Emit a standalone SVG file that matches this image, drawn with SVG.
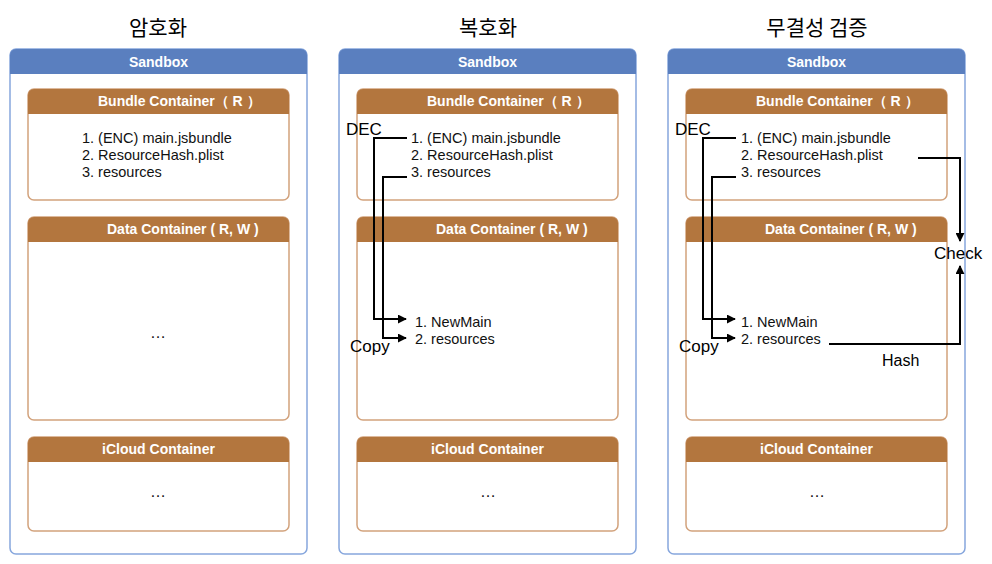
<svg xmlns="http://www.w3.org/2000/svg" width="992" height="564" viewBox="0 0 992 564">
<defs>
<style>
.title{font-family:"Noto Sans CJK KR","Noto Sans",sans-serif;font-size:21px;fill:#000;text-anchor:middle}
.sbx{fill:#fff;stroke:#86a6dd;stroke-width:1.5}
.sbxh{fill:#5a7fbf}
.sbxt{font-family:"Liberation Sans",Arial,sans-serif;font-weight:bold;font-size:14px;fill:#fff;text-anchor:middle}
.ctr{fill:#fff;stroke:#d2a27c;stroke-width:1.5}
.ctrh{fill:#b3763e}
.ctrt{font-family:"Liberation Sans",Arial,sans-serif;font-weight:bold;font-size:14px;fill:#fff}
.item{font-family:"Liberation Sans",Arial,sans-serif;font-size:14.5px;fill:#111}
.lbl{font-family:"Liberation Sans",Arial,sans-serif;font-size:17px;fill:#000}
.dots{font-family:"Liberation Sans",Arial,sans-serif;font-size:16px;fill:#111;text-anchor:middle}
.conn{fill:none;stroke:#000;stroke-width:2}
</style>
<marker id="ah" viewBox="0 0 10 10" refX="9" refY="5" markerWidth="4.5" markerHeight="4.5" orient="auto" markerUnits="strokeWidth">
<path d="M0,0 L10,5 L0,10 Z" fill="#000"/>
</marker>
</defs>
<rect width="992" height="564" fill="#fff"/>

<text class="title" x="158" y="35">암호화</text>
<text class="title" x="488" y="35">복호화</text>
<text class="title" x="817" y="35">무결성 검증</text>

<!-- Panel 1 -->
<g id="sandbox1">
<rect class="sbx" x="10" y="49" width="297" height="505" rx="6"/>
<path class="sbxh" d="M10,74 V55 a6,6 0 0 1 6,-6 H301 a6,6 0 0 1 6,6 V74 Z"/>
<text class="sbxt" x="158.5" y="67">Sandbox</text>
</g>
<g id="bundle1">
<rect class="ctr" x="28" y="89" width="261" height="111" rx="6"/>
<path class="ctrh" d="M28,114 V95 a6,6 0 0 1 6,-6 H283 a6,6 0 0 1 6,6 V114 Z"/>
<text class="ctrt" x="98" y="106">Bundle Container（ R ）</text>
<text class="item" x="82" y="143">1. (ENC) main.jsbundle</text>
<text class="item" x="82" y="160">2. ResourceHash.plist</text>
<text class="item" x="82" y="177">3. resources</text>
</g>
<g id="data1">
<rect class="ctr" x="28" y="217" width="261" height="203" rx="6"/>
<path class="ctrh" d="M28,242 V223 a6,6 0 0 1 6,-6 H283 a6,6 0 0 1 6,6 V242 Z"/>
<text class="ctrt" x="107" y="234">Data Container ( R, W )</text>
<text class="dots" x="158" y="338">…</text>
</g>
<g id="icloud1">
<rect class="ctr" x="28" y="437" width="261" height="94" rx="6"/>
<path class="ctrh" d="M28,462 V443 a6,6 0 0 1 6,-6 H283 a6,6 0 0 1 6,6 V462 Z"/>
<text class="ctrt" x="158.5" y="454" text-anchor="middle">iCloud Container</text>
<text class="dots" x="158" y="497">…</text>
</g>

<!-- Panel 2 -->
<g id="sandbox2">
<rect class="sbx" x="339" y="49" width="297" height="505" rx="6"/>
<path class="sbxh" d="M339,74 V55 a6,6 0 0 1 6,-6 H630 a6,6 0 0 1 6,6 V74 Z"/>
<text class="sbxt" x="487.5" y="67">Sandbox</text>
</g>
<g id="bundle2">
<rect class="ctr" x="357" y="89" width="261" height="111" rx="6"/>
<path class="ctrh" d="M357,114 V95 a6,6 0 0 1 6,-6 H612 a6,6 0 0 1 6,6 V114 Z"/>
<text class="ctrt" x="427" y="106">Bundle Container（ R ）</text>
<text class="item" x="411" y="143">1. (ENC) main.jsbundle</text>
<text class="item" x="411" y="160">2. ResourceHash.plist</text>
<text class="item" x="411" y="177">3. resources</text>
</g>
<g id="data2">
<rect class="ctr" x="357" y="217" width="261" height="203" rx="6"/>
<path class="ctrh" d="M357,242 V223 a6,6 0 0 1 6,-6 H612 a6,6 0 0 1 6,6 V242 Z"/>
<text class="ctrt" x="436" y="234">Data Container ( R, W )</text>
<text class="item" x="415" y="327">1. NewMain</text>
<text class="item" x="415" y="344">2. resources</text>
</g>
<g id="icloud2">
<rect class="ctr" x="357" y="437" width="261" height="94" rx="6"/>
<path class="ctrh" d="M357,462 V443 a6,6 0 0 1 6,-6 H612 a6,6 0 0 1 6,6 V462 Z"/>
<text class="ctrt" x="487.5" y="454" text-anchor="middle">iCloud Container</text>
<text class="dots" x="488" y="497">…</text>
</g>

<!-- Panel 3 -->
<g id="sandbox3">
<rect class="sbx" x="668" y="49" width="297" height="505" rx="6"/>
<path class="sbxh" d="M668,74 V55 a6,6 0 0 1 6,-6 H959 a6,6 0 0 1 6,6 V74 Z"/>
<text class="sbxt" x="816.5" y="67">Sandbox</text>
</g>
<g id="bundle3">
<rect class="ctr" x="686" y="89" width="261" height="111" rx="6"/>
<path class="ctrh" d="M686,114 V95 a6,6 0 0 1 6,-6 H941 a6,6 0 0 1 6,6 V114 Z"/>
<text class="ctrt" x="756" y="106">Bundle Container（ R ）</text>
<text class="item" x="741" y="143">1. (ENC) main.jsbundle</text>
<text class="item" x="741" y="160">2. ResourceHash.plist</text>
<text class="item" x="741" y="177">3. resources</text>
</g>
<g id="data3">
<rect class="ctr" x="686" y="217" width="261" height="203" rx="6"/>
<path class="ctrh" d="M686,242 V223 a6,6 0 0 1 6,-6 H941 a6,6 0 0 1 6,6 V242 Z"/>
<text class="ctrt" x="765" y="234">Data Container ( R, W )</text>
<text class="item" x="741" y="327">1. NewMain</text>
<text class="item" x="741" y="344">2. resources</text>
</g>
<g id="icloud3">
<rect class="ctr" x="686" y="437" width="261" height="94" rx="6"/>
<path class="ctrh" d="M686,462 V443 a6,6 0 0 1 6,-6 H941 a6,6 0 0 1 6,6 V462 Z"/>
<text class="ctrt" x="816.5" y="454" text-anchor="middle">iCloud Container</text>
<text class="dots" x="817" y="497">…</text>
</g>

<!-- Connectors -->
<g id="connectors">
<path class="conn" d="M407,138 H374 V319 H406" marker-end="url(#ah)"/>
<path class="conn" d="M407,177 H383 V338 H406" marker-end="url(#ah)"/>
<path class="conn" d="M736,138 H703 V319 H735" marker-end="url(#ah)"/>
<path class="conn" d="M736,177 H712 V338 H735" marker-end="url(#ah)"/>
<path class="conn" d="M918,158 H960 V241" marker-end="url(#ah)"/>
<path class="conn" d="M829,344 H960 V266" marker-end="url(#ah)"/>
<text class="lbl" x="346" y="135">DEC</text>
<text class="lbl" x="350" y="352">Copy</text>
<text class="lbl" x="675" y="135">DEC</text>
<text class="lbl" x="679" y="352">Copy</text>
<text class="lbl" x="934" y="259">Check</text>
<text class="lbl" x="882" y="366" style="font-size:16px">Hash</text>
</g>
</svg>
